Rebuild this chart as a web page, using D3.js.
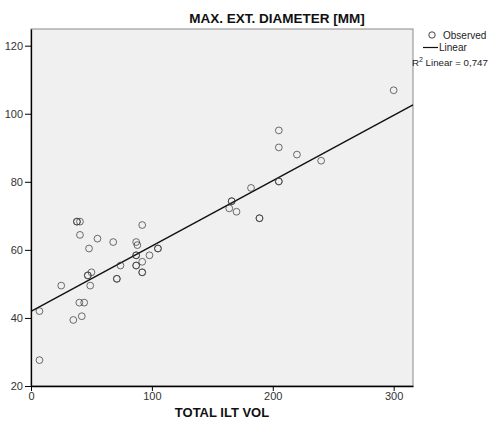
<!DOCTYPE html>
<html>
<head>
<meta charset="utf-8">
<script src="https://cdn.jsdelivr.net/npm/d3@7"></script>
<style>
  body { margin: 0; background: #fff; }
  svg { font-family: Arial, "Liberation Sans", sans-serif; }
</style>
</head>
<body>
<div id="chart"></div>
<script>
// Observed points (TOTAL ILT VOL, MAX. EXT. DIAMETER)
const iltVol = [7, 7, 25, 35, 42, 40, 44, 38, 38, 40.5, 40.5, 55, 48, 68, 87, 88, 92, 87, 87, 98,
                92, 105, 105, 74, 87, 87, 92, 92, 71, 71, 50, 47, 47, 49, 166, 166, 164, 170, 189, 189,
                182, 205, 205, 220, 240, 205, 205, 300];
const diameter = [42, 27.6, 49.5, 39.4, 40.5, 44.5, 44.5, 68.3, 68.3, 68.3, 64.4, 63.3, 60.4, 62.3, 62.3, 61.4, 67.3, 58.4, 58.4, 58.4,
                  56.5, 60.4, 60.4, 55.4, 55.4, 55.4, 53.4, 53.4, 51.5, 51.5, 53.4, 52.5, 52.5, 49.5, 74.3, 74.3, 72.2, 71.2, 69.3, 69.3,
                  78.2, 80.1, 80.1, 88, 86.2, 90.1, 95.1, 106.9];

// linear fit as shown
const fitIntercept = 41.9;
const fitSlope = 0.192;
const rSquared = "0,747";

const xTicks = [0, 100, 200, 300];
const yTicks = [20, 40, 60, 80, 100, 120];

const width = 488, height = 422;
const plot = { left: 31, right: 413, top: 29, bottom: 386 };

const svg = d3.select("#chart").append("svg")
    .attr("width", width)
    .attr("height", height);

const x = d3.scaleLinear().domain([0, 316]).range([plot.left, plot.right]);
const y = d3.scaleLinear().domain([20, 124.9]).range([plot.bottom, plot.top]);

// plot background + frame
svg.append("rect")
    .attr("x", plot.left).attr("y", plot.top)
    .attr("width", plot.right - plot.left).attr("height", plot.bottom - plot.top)
    .attr("fill", "#f0f0f0")
    .attr("stroke", "#8a8a8a")
    .attr("stroke-width", 1);

// title
svg.append("text")
    .attr("x", 277).attr("y", 23)
    .attr("text-anchor", "middle")
    .attr("font-weight", "bold")
    .attr("font-size", 13.5)
    .attr("fill", "#111")
    .text("MAX. EXT. DIAMETER [MM]");

// axes
const xAxis = svg.append("g")
    .attr("transform", `translate(0,${plot.bottom})`)
    .call(d3.axisBottom(x).tickValues(xTicks).tickSize(5).tickSizeOuter(0));
const yAxis = svg.append("g")
    .attr("transform", `translate(${plot.left},0)`)
    .call(d3.axisLeft(y).tickValues(yTicks).tickSize(6).tickSizeOuter(0));

[xAxis, yAxis].forEach(g => {
    g.select(".domain").attr("stroke", "#000").attr("stroke-width", 1.3);
    g.selectAll(".tick line").attr("stroke", "#000");
    g.selectAll(".tick text").attr("font-size", 11).attr("fill", "#333")
        .attr("font-family", "Arial, 'Liberation Sans', sans-serif");
});
xAxis.selectAll(".tick text").attr("dy", "0.5em");
yAxis.selectAll(".tick text").attr("x", -8);

// x label
svg.append("text")
    .attr("x", 222).attr("y", 417)
    .attr("text-anchor", "middle")
    .attr("font-weight", "bold")
    .attr("font-size", 13)
    .attr("fill", "#111")
    .text("TOTAL ILT VOL");

// fit line
svg.append("line")
    .attr("x1", x(0)).attr("y1", y(fitIntercept))
    .attr("x2", x(316)).attr("y2", y(fitIntercept + fitSlope * 316))
    .attr("stroke", "#111")
    .attr("stroke-width", 1.4);

// observed points
svg.selectAll("circle.obs")
    .data(iltVol.map((v, i) => [v, diameter[i]]))
    .join("circle")
    .attr("class", "obs")
    .attr("cx", d => x(d[0]))
    .attr("cy", d => y(d[1]))
    .attr("r", 3.4)
    .attr("fill", "none")
    .attr("stroke", "#333")
    .attr("stroke-opacity", 0.7)
    .attr("stroke-width", 1);

// legend
const legend = svg.append("g").attr("font-size", 10).attr("fill", "#222");
legend.append("circle")
    .attr("cx", 432).attr("cy", 35).attr("r", 3.2)
    .attr("fill", "none").attr("stroke", "#444");
legend.append("text").attr("x", 443).attr("y", 38.5).text("Observed");
legend.append("line")
    .attr("x1", 423).attr("x2", 438).attr("y1", 47.5).attr("y2", 47.5)
    .attr("stroke", "#111").attr("stroke-width", 1.2);
legend.append("text").attr("x", 439).attr("y", 51).text("Linear");
const r2 = legend.append("text").attr("x", 412).attr("y", 66).attr("font-size", 9.7);
r2.append("tspan").text("R");
r2.append("tspan").attr("font-size", 7).attr("dy", -4).text("2");
r2.append("tspan").attr("dy", 4).text(" Linear = " + rSquared);
</script>
</body>
</html>
